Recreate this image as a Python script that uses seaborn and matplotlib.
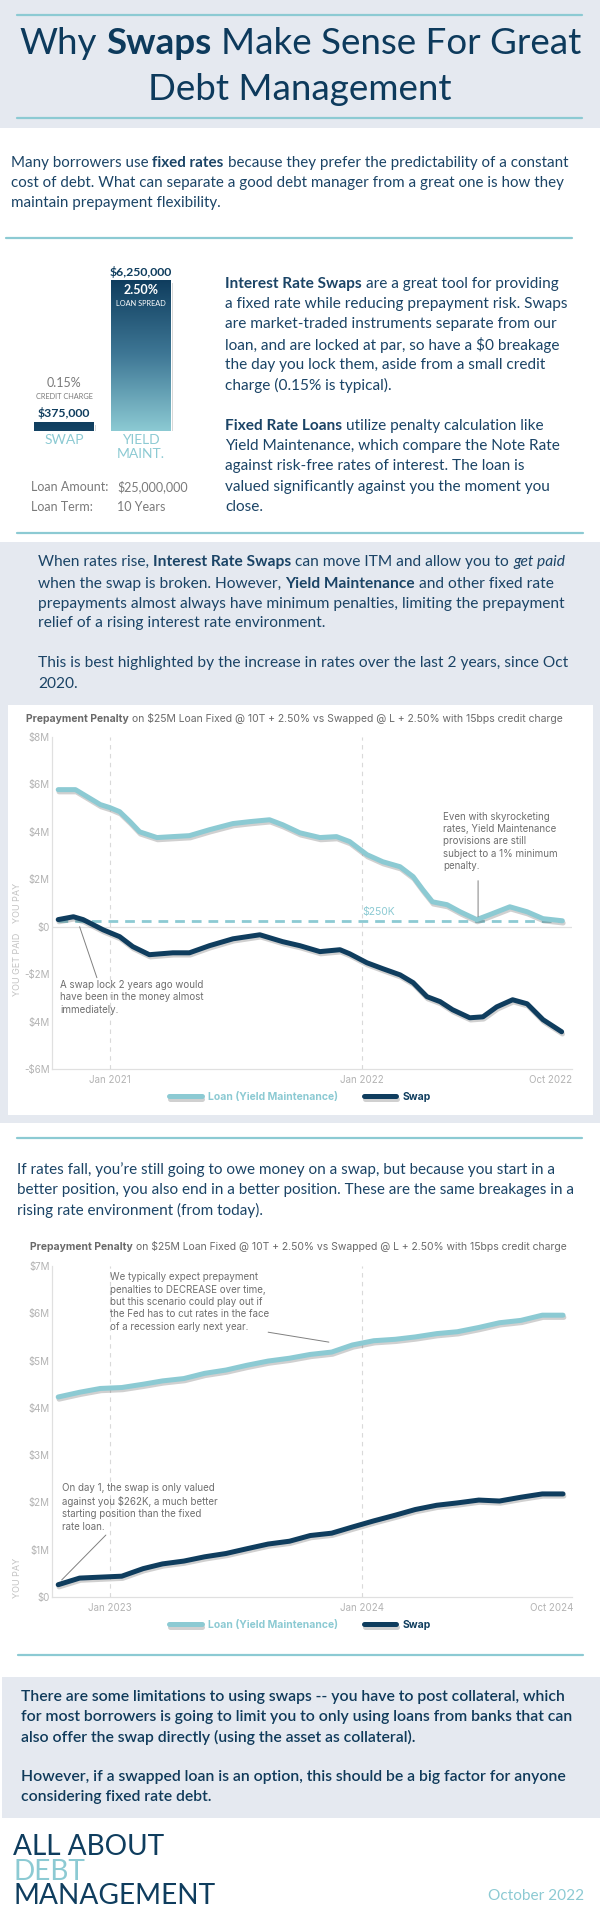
import matplotlib
matplotlib.use('Agg')
import numpy as np
import pandas as pd
import matplotlib.pyplot as plt
import matplotlib.patheffects as pe
from matplotlib.patches import Rectangle
from matplotlib.lines import Line2D
from matplotlib.colors import LinearSegmentedColormap
import seaborn as sns

sns.set_theme(style='white')
plt.rcParams['font.family'] = ['Lato', 'DejaVu Sans']
plt.rcParams['text.parse_math'] = False

NAVY = '#0f3d5e'
TEAL = '#8ccad3'
TEXT = '#1b4466'
BAND = '#e5e9f0'
GRAY = '#7a7a7a'
NOTE = '#6e6e6e'
TICK = '#b3b3b3'

# ---- data -------------------------------------------------------------
bar_labels = ['SWAP', 'YIELD\nMAINT.']
bar_values = [375000, 6250000]
bar_rates = ['0.15%', '2.50%']
bar_rate_names = ['CREDIT CHARGE', 'LOAN SPREAD']

SERIES = ['Loan (Yield Maintenance)', 'Swap']

# rising rates, Oct 2020 -> Oct 2022 ($M)
rise_loan_dates = ['2020-10-18', '2020-11-12', '2020-12-18', '2021-01-01', '2021-01-15',
                   '2021-01-30', '2021-02-13', '2021-03-10', '2021-04-02', '2021-04-26',
                   '2021-05-25', '2021-06-28', '2021-07-22', '2021-08-20', '2021-09-08',
                   '2021-10-03', '2021-11-01', '2021-11-25', '2021-12-14', '2022-01-08',
                   '2022-01-31', '2022-02-25', '2022-03-16', '2022-03-30', '2022-04-13',
                   '2022-05-04', '2022-05-23', '2022-06-16', '2022-07-05', '2022-08-03',
                   '2022-08-28', '2022-09-20', '2022-10-18']
rise_loan_values = [5.78, 5.78, 5.15, 5.02, 4.85, 4.43, 4.0, 3.76, 3.8, 3.84,
                    4.09, 4.35, 4.43, 4.51, 4.3, 3.96, 3.76, 3.8, 3.59, 3.04,
                    2.74, 2.53, 2.11, 1.56, 1.05, 0.93, 0.63, 0.3, 0.51, 0.84,
                    0.63, 0.34, 0.25]
rise_swap_dates = ['2020-10-18', '2020-11-09', '2020-11-23', '2020-12-22', '2021-01-15',
                   '2021-02-03', '2021-02-27', '2021-04-02', '2021-04-26', '2021-05-25',
                   '2021-06-28', '2021-08-06', '2021-09-08', '2021-10-03', '2021-11-01',
                   '2021-11-30', '2021-12-14', '2022-01-08', '2022-01-31', '2022-02-25',
                   '2022-03-16', '2022-04-05', '2022-04-24', '2022-05-12', '2022-06-06',
                   '2022-06-25', '2022-07-15', '2022-08-07', '2022-08-28', '2022-09-20',
                   '2022-10-17']
rise_swap_values = [0.3, 0.42, 0.3, -0.13, -0.42, -0.84, -1.18, -1.1, -1.1, -0.8,
                    -0.51, -0.34, -0.63, -0.8, -1.05, -0.97, -1.14, -1.52, -1.77, -2.03,
                    -2.36, -2.95, -3.16, -3.5, -3.84, -3.8, -3.38, -3.08, -3.25, -3.92,
                    -4.43]
min_penalty = 0.25

# falling rates, Oct 2022 -> Oct 2024 ($M)
fall_dates = ['2022-10-18', '2022-11-18', '2022-12-18', '2023-01-18', '2023-02-18',
              '2023-03-18', '2023-04-18', '2023-05-18', '2023-06-18', '2023-07-18',
              '2023-08-18', '2023-09-18', '2023-10-18', '2023-11-18', '2023-12-18',
              '2024-01-18', '2024-02-18', '2024-03-18', '2024-04-18', '2024-05-18',
              '2024-06-18', '2024-07-18', '2024-08-18', '2024-09-18', '2024-10-18']
fall_loan_values = [4.23, 4.33, 4.41, 4.43, 4.5, 4.57, 4.62, 4.73, 4.8, 4.9,
                    4.99, 5.05, 5.13, 5.18, 5.33, 5.42, 5.45, 5.5, 5.57, 5.61,
                    5.7, 5.8, 5.85, 5.96, 5.96]
fall_swap_values = [0.26, 0.4, 0.42, 0.44, 0.6, 0.7, 0.76, 0.85, 0.92, 1.02,
                    1.12, 1.18, 1.3, 1.35, 1.48, 1.61, 1.73, 1.85, 1.94, 1.99,
                    2.05, 2.03, 2.11, 2.18, 2.18]

rise_yticks = [-6, -4, -2, 0, 2, 4, 6, 8]
rise_ylabels = ['-$6M', '$4M', '-$2M', '$0', '$2M', '$4M', '$6M', '$8M']
rise_xticks = ['2021-01-01', '2022-01-01', '2022-10-01']
rise_xlabels = ['Jan 2021', 'Jan 2022', 'Oct 2022']
fall_yticks = [0, 1, 2, 3, 4, 5, 6, 7]
fall_ylabels = ['$0', '$1M', '$2M', '$3M', '$4M', '$5M', '$6M', '$7M']
fall_xticks = ['2023-01-01', '2024-01-01', '2024-10-01']
fall_xlabels = ['Jan 2023', 'Jan 2024', 'Oct 2024']

# ---- helpers ----------------------------------------------------------
fig = plt.figure(figsize=(6, 19.23), dpi=100)
W, H = 600, 1923
R = fig.canvas.get_renderer()


def fx(x):
    return x / W


def fy(y):
    return 1 - y / H


def px_axes(x0, y0, x1, y1):
    return fig.add_axes([fx(x0), fy(y1), (x1 - x0) / W, (y1 - y0) / H])


def rect(x0, y0, x1, y1, color):
    fig.patches.append(Rectangle((fx(x0), fy(y1)), (x1 - x0) / W, (y1 - y0) / H,
                                 transform=fig.transFigure, facecolor=color,
                                 edgecolor='none', zorder=-10))


def rule(x0, x1, y, color=TEAL, lw=1.6):
    fig.add_artist(Line2D([fx(x0), fx(x1)], [fy(y), fy(y)], transform=fig.transFigure,
                          color=color, lw=lw))


def P(*items):
    out = []
    for it in items:
        if isinstance(it, str):
            out.append((it, 'normal', 'normal'))
        elif len(it) == 2:
            out.append((it[0], it[1], 'normal'))
        else:
            out.append(it)
    return out


def tw(s, size, family, weight='normal', style='normal'):
    t = fig.text(0, 0, '|' + s + '|', fontsize=size, family=family,
                 fontweight=weight, fontstyle=style)
    w1 = t.get_window_extent(R).width
    t.set_text('||')
    w2 = t.get_window_extent(R).width
    t.remove()
    return w1 - w2


def line_w(parts, size, family):
    return sum(tw(s, size, family, wt, st) for s, wt, st in parts)


def fit(parts, target, family, base=10.0):
    return base * target / line_w(parts, base, family)


def draw_line(x, y, parts, size, color, family, ha='left'):
    if ha == 'center':
        x = x - line_w(parts, size, family) / 2
    for s, wt, st in parts:
        core = s.lstrip(' ')
        lead = s[:len(s) - len(core)]
        x0 = x + (tw(lead, size, family, wt, st) if lead else 0)
        fig.text(fx(x0), fy(y), core.rstrip(' '), fontsize=size, family=family,
                 fontweight=wt, fontstyle=st, color=color, va='center', ha='left')
        x += tw(s, size, family, wt, st)


def para(x, ys, lines, size, color, family='Lato'):
    for y, ln in zip(ys, lines):
        draw_line(x, y, ln, size, color, family)


# ---- backgrounds and rules -------------------------------------------
rect(0, 0, 600, 128, BAND)
rect(0, 542, 600, 1123, BAND)
rect(8, 705, 593, 1115, 'white')
rect(2, 1677, 600, 1818, BAND)
rule(17, 582, 15)
rule(17, 582, 118)
rule(6, 572, 238)
rule(17, 583, 533)
rule(17, 582, 1138)
rule(18, 583, 1655)

# ---- title ------------------------------------------------------------
t1 = P('Why ', ('Swaps', 'bold'), ' Make Sense For Great')
ts = fit(t1, 561, 'Lato')
draw_line(300, 43, t1, ts, '#0d3a5c', 'Lato', ha='center')
draw_line(300, 90, P('Debt Management'), ts, '#0d3a5c', 'Lato', ha='center')

# ---- intro ------------------------------------------------------------
intro = [P('Many borrowers use ', ('fixed rates', 'bold'),
           ' because they prefer the predictability of a constant'),
         P('cost of debt. What can separate a good debt manager from a great one is how they'),
         P('maintain prepayment flexibility.')]
s_intro = fit(intro[0], 557, 'Lato')
para(11, [163, 183, 203], intro, s_intro, TEXT)

# ---- swap vs yield maintenance bars ------------------------------------
col = [P(('Interest Rate Swaps', 'bold'), ' are a great tool for providing'),
       P('a fixed rate while reducing prepayment risk. Swaps'),
       P('are market-traded instruments separate from our'),
       P('loan, and are locked at par, so have a $0 breakage'),
       P('the day you lock them, aside from a small credit'),
       P('charge (0.15% is typical).')]
col2 = [P(('Fixed Rate Loans', 'bold'), ' utilize penalty calculation like'),
        P('Yield Maintenance, which compare the Note Rate'),
        P('against risk-free rates of interest. The loan is'),
        P('valued significantly against you the moment you'),
        P('close.')]
s_col = fit(col[1], 342, 'Lato')
para(225, [284, 304, 324, 345, 365, 385], col, s_col, TEXT)
para(225, [426, 446, 466, 487, 507], col2, s_col, TEXT)

axb = px_axes(25.5, 280, 179.5, 431)
sns.barplot(x=bar_labels, y=bar_values, color=NAVY, saturation=1, width=0.77, ax=axb)
top = max(bar_values)
cmap = LinearSegmentedColormap.from_list('bar', [NAVY, '#3f7896', TEAL])
for p in axb.patches:
    x0, w, h = p.get_x(), p.get_width(), p.get_height()
    grad = np.linspace(0, h / top, 256).reshape(-1, 1)
    im = axb.imshow(grad, extent=[x0, x0 + w, 0, h], origin='upper', aspect='auto',
                    cmap=cmap, vmin=0, vmax=1, zorder=3)
    im.set_clip_path(p)
    p.set_path_effects([pe.SimplePatchShadow(offset=(1.5, -2), shadow_rgbFace='#777777',
                                             alpha=0.35), pe.Normal()])
axb.set_xlim(-0.5, 1.5)
axb.set_ylim(0, top)
axb.axis('off')


def bar_note(i, v, text, off_px, size, color, weight='normal'):
    axb.annotate(text, (i, v), xytext=(0, off_px * 0.72), textcoords='offset points',
                 ha='center', va='center', fontsize=size, color=color,
                 fontweight=weight, annotation_clip=False)


for i, (v, rate, name) in enumerate(zip(bar_values, bar_rates, bar_rate_names)):
    money = f'${v:,.0f}'
    if v > top / 2:
        bar_note(i, v, money, 8, 8.8, NAVY, 'bold')
        bar_note(i, v, rate, -10, 9, 'white', 'bold')
        bar_note(i, v, name, -23, 5.3, 'white')
    else:
        bar_note(i, v, money, 9, 8.8, NAVY, 'bold')
        bar_note(i, v, name, 25, 5.3, GRAY)
        bar_note(i, v, rate, 39, 9, GRAY)
    axb.annotate(bar_labels[i], (i, 0), xytext=(0, -2.2), textcoords='offset points',
                 ha='center', va='top', fontsize=10, color=TEAL, linespacing=1.15,
                 annotation_clip=False)

for y, a, b in [(487, 'Loan Amount:', '$25,000,000'), (507, 'Loan Term:', '10 Years')]:
    fig.text(fx(31), fy(y), a, fontsize=9, color=GRAY, va='center')
    fig.text(fx(117), fy(y), b, fontsize=9, color=GRAY, va='center')

# ---- section 3 text ---------------------------------------------------
sec3 = [P('When rates rise, ', ('Interest Rate Swaps', 'bold'),
          ' can move ITM and allow you to ', ('get paid', 'normal', 'italic')),
        P('when the swap is broken. However, ', ('Yield Maintenance', 'bold'),
          ' and other fixed rate'),
        P('prepayments almost always have minimum penalties, limiting the prepayment'),
        P('relief of a rising interest rate environment.'),
        P('This is best highlighted by the increase in rates over the last 2 years, since Oct'),
        P('2020.')]
s3 = fit(sec3[0], 528, 'Lato')
para(38, [562, 584, 604, 623, 663, 684], sec3, s3, TEXT)


# ---- charts -----------------------------------------------------------
def long_df(loan_d, loan_v, swap_d, swap_v):
    a = pd.DataFrame({'date': pd.to_datetime(loan_d), 'value': loan_v, 'series': SERIES[0]})
    b = pd.DataFrame({'date': pd.to_datetime(swap_d), 'value': swap_v, 'series': SERIES[1]})
    return pd.concat([a, b], ignore_index=True)


def subtitle(x, y):
    parts = P(('Prepayment Penalty', 'bold'),
              ' on $25M Loan Fixed @ 10T + 2.50% vs Swapped @ L + 2.50% with 15bps credit charge')
    s = fit(parts, 540, 'Inter')
    draw_line(x, y, parts, s, '#6a6a6a', 'Inter')


def penalty_chart(box, df, ylim, yticks, ylabels, xlim, xticks, xlabels, legend_y):
    ax = px_axes(*box)
    sns.lineplot(data=df, x='date', y='value', hue='series', hue_order=SERIES,
                 palette=[TEAL, NAVY], linewidth=3.6, estimator=None, ax=ax)
    for ln in ax.lines:
        ln.set_solid_capstyle('round')
        ln.set_solid_joinstyle('round')
        ln.set_path_effects([pe.SimpleLineShadow(offset=(0.6, -1.6), shadow_color='#444444',
                                                 alpha=0.25), pe.Normal()])
    handles, labels = ax.get_legend_handles_labels()
    ax.get_legend().remove()
    ax.set_xlim(pd.Timestamp(xlim[0]), pd.Timestamp(xlim[1]))
    ax.set_ylim(*ylim)
    ax.set_yticks(yticks)
    ax.set_yticklabels(ylabels, family='Inter', fontsize=7, color=TICK)
    ax.set_xticks(pd.to_datetime(xticks))
    ax.set_xticklabels(xlabels, family='Inter', fontsize=7, color=TICK)
    ax.tick_params(length=0)
    ax.tick_params(axis='y', pad=1.5)
    ax.tick_params(axis='x', pad=4)
    ax.set_xlabel('')
    ax.set_ylabel('')
    ax.patch.set_alpha(0)
    for s in ['top', 'right']:
        ax.spines[s].set_visible(False)
    for s in ['left', 'bottom']:
        ax.spines[s].set_color('#e0e0e0')
        ax.spines[s].set_linewidth(0.9)
    for d in xticks[:2]:
        ax.axvline(pd.Timestamp(d), color='#d9d9d9', lw=0.8, ls=(0, (4, 4)), zorder=0)
    leg = ax.legend(handles, labels, loc='center', bbox_to_anchor=(0.5, fy(legend_y)),
                    bbox_transform=fig.transFigure, ncol=2, frameon=False, handlelength=3.1,
                    columnspacing=2.5, handletextpad=0.6,
                    prop={'family': 'Inter', 'weight': 'bold', 'size': 7.5})
    for t, c in zip(leg.get_texts(), [TEAL, NAVY]):
        t.set_color(c)
    for h in leg.legend_handles:
        h.set_linewidth(3.6)
    return ax


def note(ax, x, y, text):
    ax.text(pd.Timestamp(x), y, text, family='Inter', fontsize=7, color=NOTE, va='top',
            ha='left', linespacing=1.3, clip_on=False)


def leader(ax, p0, p1):
    ax.annotate('', xy=(pd.Timestamp(p1[0]), p1[1]), xytext=(pd.Timestamp(p0[0]), p0[1]),
                arrowprops=dict(arrowstyle='-', color='#808080', lw=0.7,
                                shrinkA=0, shrinkB=0))


subtitle(26, 719)
ax1 = penalty_chart((52, 737, 572, 1069),
                    long_df(rise_loan_dates, rise_loan_values, rise_swap_dates, rise_swap_values),
                    (-6, 8), rise_yticks, rise_ylabels, ('2020-10-09', '2022-11-01'),
                    rise_xticks, rise_xlabels, 1097)
ax1.axhline(0, color='#e0e0e0', lw=0.9, zorder=0)
ax1.hlines(min_penalty, pd.Timestamp(rise_loan_dates[0]), pd.Timestamp(rise_loan_dates[-1]),
           colors=TEAL, lw=2, linestyles=(0, (3.5, 2.5)), zorder=1)
ax1.text(pd.Timestamp('2022-01-01'), 0.6, '$250K', family='Inter', fontsize=7.5,
         color=TEAL, va='center', ha='left')
note(ax1, '2022-04-28', 4.85, 'Even with skyrocketing\nrates, Yield Maintenance\n'
     'provisions are still\nsubject to a 1% minimum\npenalty.')
leader(ax1, ('2022-06-18', 1.94), ('2022-06-18', 0.42))
note(ax1, '2020-10-21', -2.24, 'A swap lock 2 years ago would\nhave been in the money almost\n'
     'immediately.')
leader(ax1, ('2020-11-18', 0.0), ('2020-12-13', -2.15))
fig.text(fx(17), fy(903), 'YOU PAY', rotation=90, family='Inter', fontsize=6.5,
         color='#c2c2c2', ha='center', va='center')
fig.text(fx(17), fy(964), 'YOU GET PAID', rotation=90, family='Inter', fontsize=6.5,
         color='#c2c2c2', ha='center', va='center')

# ---- section 4 ---------------------------------------------------------
sec4 = [P('If rates fall, you\u2019re still going to owe money on a swap, but because you start in a'),
        P('better position, you also end in a better position. These are the same breakages in a'),
        P('rising rate environment (from today).')]
s4 = fit(sec4[1], 557, 'Lato')
para(17, [1170, 1190, 1210], sec4, s4, TEXT)

subtitle(30, 1247)
ax2 = penalty_chart((52, 1266, 572, 1597),
                    long_df(fall_dates, fall_loan_values, fall_dates, fall_swap_values),
                    (0, 7), fall_yticks, fall_ylabels, ('2022-10-09', '2024-10-31'),
                    fall_xticks, fall_xlabels, 1625)
note(ax2, '2023-01-01', 6.87, 'We typically expect prepayment\npenalties to DECREASE over time,\n'
     'but this scenario could play out if\nthe Fed has to cut rates in the face\n'
     'of a recession early next year.')
leader(ax2, ('2023-08-18', 5.6), ('2023-11-14', 5.39))
note(ax2, '2022-10-23', 2.41, 'On day 1, the swap is only valued\nagainst you $262K, a much better\n'
     'starting position than the fixed\nrate loan.')
leader(ax2, ('2022-12-26', 1.31), ('2022-10-23', 0.36))
fig.text(fx(17), fy(1578), 'YOU PAY', rotation=90, family='Inter', fontsize=6.5,
         color='#c2c2c2', ha='center', va='center')

# ---- footer -----------------------------------------------------------
foot = [P(('There are some limitations to using swaps -- you have to post collateral, which', 'semibold')),
        P(('for most borrowers is going to limit you to only using loans from banks that can', 'semibold')),
        P(('also offer the swap directly (using the asset as collateral).', 'semibold')),
        P(('However, if a swapped loan is an option, this should be a big factor for anyone', 'semibold')),
        P(('considering fixed rate debt.', 'semibold'))]
sf = fit(foot[1], 554, 'Lato')
para(21, [1697, 1717, 1737, 1777, 1797], foot, sf, '#0f3a5a')

logo = P('MANAGEMENT')
sl = fit(logo, 201, 'Lato')
draw_line(13, 1847, P('ALL ABOUT'), sl, NAVY, 'Lato')
draw_line(13, 1872, P('DEBT'), sl, TEAL, 'Lato')
draw_line(13, 1896, logo, sl, NAVY, 'Lato')
month = P('October 2022')
sm = fit(month, 96, 'Lato')
draw_line(584 - line_w(month, sm, 'Lato'), 1896, month, sm, TEAL, 'Lato')

fig.savefig('out.png', dpi=100, facecolor='white')
